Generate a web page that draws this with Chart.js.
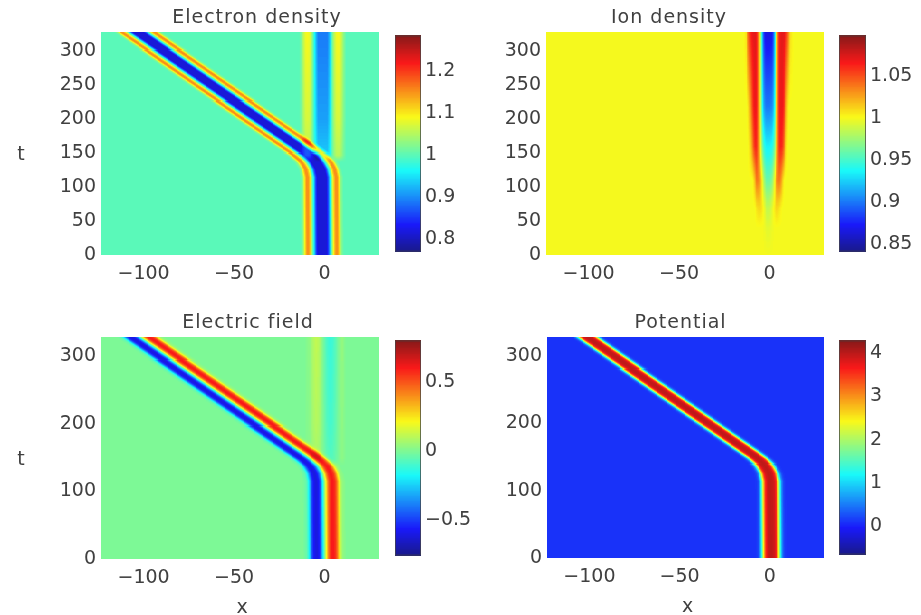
<!DOCTYPE html>
<html>
<head>
<meta charset="utf-8">
<script src="https://cdn.jsdelivr.net/npm/chart.js@4.4.1/dist/chart.umd.min.js"></script>
<style>
html, body { margin: 0; padding: 0; background: #fff; }
#wrap { position: relative; width: 921px; height: 615px; overflow: hidden; }
canvas { position: absolute; filter: blur(0.6px); }
</style>
</head>
<body>
<div id="wrap"></div>
<script>
// axes
const xLimits = [-123.5, 30];
const tLimits = [0, 328];
const xTicks = [-100, -50, 0];
const tTicksTop = [0, 50, 100, 150, 200, 250, 300];
const tTicksBottom = [0, 100, 200, 300];

// colour bar ranges and ticks
const neRange = [0.77, 1.284];
const neTicks = [0.8, 0.9, 1, 1.1, 1.2];
const niRange = [0.841, 1.098];
const niTicks = [0.85, 0.9, 0.95, 1, 1.05];
const efRange = [-0.755, 0.797];
const efTicks = [-0.5, 0, 0.5];
const phiRange = [-0.65, 4.29];
const phiTicks = [0, 1, 2, 3, 4];

// soliton track (t -> centre x, horizontal width factor)
const trackT = [0, 115, 127, 137, 147, 158, 328];
const trackX = [0, -0.3, -1.2, -3.2, -7.0, -12.6, -101.5];
const trackWidth = [1, 1, 1, 1.02, 1.06, 1.1, 1.12];

// electron density across the soliton (distance from centre -> value)
const neShift = -1.0;
const neOffsets = [0, 2.5, 3.5, 4.5, 5.5, 6.5, 7.5, 8.5, 9.5, 10.5, 12];
const neValues = [0.815, 0.815, 0.87, 0.96, 1.03, 1.11, 1.15, 1.15, 1.1, 1.03, 1.0];

// electron density left behind at x ~ 0 once the soliton has gone
const residualT = [0, 138, 148, 200, 328];
const residualWeight = [0, 0, 0.6, 0.8, 1];
const neResShift = -0.8;
const neResOffsets = [0, 2.5, 3.5, 4.5, 5.5, 6.5, 7.5, 8.5, 9.5, 10.5, 11.5, 13];
const neResValues = [0.89, 0.89, 0.92, 0.965, 1.02, 1.06, 1.085, 1.09, 1.085, 1.06, 1.03, 1.0];

// ion density cavity at x ~ 0, one row per time
const niShift = -0.5;
const niT = [0, 40, 70, 110, 160, 220, 328];
const niOffsets = [0, 1, 2, 3, 4, 5, 6, 7, 8, 9, 10, 11, 12, 14];
const niRows = [
    [1, 1, 1, 1, 1, 1, 1, 1, 1, 1, 1, 1, 1, 1],
    [0.995, 0.996, 0.998, 1, 1, 1, 1, 1, 1, 1, 1, 1, 1, 1],
    [0.985, 0.988, 0.995, 1.003, 1.01, 1.012, 1.008, 1.003, 1, 1, 1, 1, 1, 1],
    [0.96, 0.962, 0.97, 0.99, 1.015, 1.035, 1.04, 1.03, 1.01, 1, 1, 1, 1, 1],
    [0.935, 0.936, 0.94, 0.955, 0.985, 1.03, 1.06, 1.065, 1.055, 1.03, 1.01, 1, 1, 1],
    [0.9, 0.901, 0.905, 0.925, 0.97, 1.03, 1.065, 1.07, 1.068, 1.05, 1.025, 1.005, 1, 1],
    [0.865, 0.866, 0.87, 0.9, 0.96, 1.03, 1.065, 1.072, 1.072, 1.07, 1.06, 1.04, 1.01, 1]
];

// electric field: antisymmetric dipole (|distance| -> magnitude)
const efShift = 0.3;
const efOffsets = [0, 1, 2, 3, 4, 5, 6, 7, 8, 9, 10, 12];
const efValues = [0, 0.22, 0.42, 0.55, 0.6, 0.6, 0.56, 0.45, 0.27, 0.12, 0.04, 0];
const efResOffsets = [-11, -8, -6, -4.5, -3, -1.5, 0, 1.5, 3, 4.5, 6, 8, 10, 12];
const efResValues = [0, 0.03, 0.09, 0.12, 0.1, 0.04, -0.03, -0.09, -0.12, -0.11, -0.07, 0, 0.04, 0];

// potential hump
const phiShift = 1.0;
const phiOffsets = [0, 1, 2, 3, 4, 5, 6, 7, 8, 10];
const phiValues = [4.0, 3.97, 3.88, 3.55, 2.7, 1.55, 0.65, 0.25, 0.12, 0.1];

const cellX = 0.5, cellT = 1.5;
const FONT = 'DejaVu Sans';
const INK = '#404040';

function interp(xs, ys, v) {
    if (v <= xs[0]) return ys[0];
    const n = xs.length - 1;
    if (v >= xs[n]) return ys[n];
    let i = 1;
    while (xs[i] < v) i++;
    const f = (v - xs[i - 1]) / (xs[i] - xs[i - 1]);
    return ys[i - 1] + f * (ys[i] - ys[i - 1]);
}

function electronDensity(x, t) {
    const xc = interp(trackT, trackX, t), w = interp(trackT, trackWidth, t);
    let v = interp(neOffsets, neValues, Math.abs(x - xc - neShift) / w);
    const k = interp(residualT, residualWeight, t);
    if (k > 0) v += k * (interp(neResOffsets, neResValues, Math.abs(x - neResShift)) - 1);
    return v;
}
function ionDensity(x, t) {
    const d = Math.abs(x - niShift);
    const col = niRows.map(r => interp(niOffsets, r, d));
    return interp(niT, col, t);
}
function electricField(x, t) {
    const xc = interp(trackT, trackX, t), w = interp(trackT, trackWidth, t);
    const d = (x - xc - efShift) / w;
    let v = Math.sign(d) * interp(efOffsets, efValues, Math.abs(d));
    const k = interp(residualT, residualWeight, t);
    if (k > 0) v += k * interp(efResOffsets, efResValues, x);
    return v;
}
function potential(x, t) {
    const xc = interp(trackT, trackX, t), w = interp(trackT, trackWidth, t);
    return interp(phiOffsets, phiValues, Math.abs(x - xc - phiShift) / w);
}

// jet colormap, slightly washed like the video frame, cached
const jetCache = [];
for (let i = 0; i < 256; i++) {
    const f = i / 255;
    const c = v => Math.round(25 + 0.88 * 255 * Math.max(0, Math.min(1, v)));
    jetCache.push(`rgb(${c(Math.min(4 * f - 1.5, -4 * f + 4.5))},${c(Math.min(4 * f - 0.5, -4 * f + 3.5))},${c(Math.min(4 * f + 0.5, -4 * f + 2.5))})`);
}
function jet(v, range) {
    let f = (v - range[0]) / (range[1] - range[0]);
    f = Math.max(0, Math.min(1, f));
    return jetCache[Math.round(f * 255)];
}

function fmt(v) { return String(v).replace('-', '\u2212'); }

// heat map cells + titles, one plugin per panel
function heatPlugin(p, canvasLeft) {
    return {
        id: 'heat',
        beforeDatasetsDraw(chart) {
            const { ctx, chartArea: a, scales: { x, y } } = chart;
            ctx.save();
            ctx.beginPath();
            ctx.rect(a.left, a.top, a.right - a.left, a.bottom - a.top);
            ctx.clip();
            for (let t = tLimits[0]; t < tLimits[1]; t += cellT) {
                const y0 = Math.floor(y.getPixelForValue(t + cellT));
                const y1 = Math.ceil(y.getPixelForValue(t));
                const tm = t + cellT / 2;
                for (let xv = xLimits[0]; xv < xLimits[1]; xv += cellX) {
                    const x0 = Math.floor(x.getPixelForValue(xv));
                    const x1 = Math.ceil(x.getPixelForValue(xv + cellX));
                    ctx.fillStyle = jet(p.field(xv + cellX / 2, tm), p.range);
                    ctx.fillRect(x0, y0, x1 - x0, y1 - y0);
                }
            }
            ctx.restore();
        },
        afterDraw(chart) {
            const { ctx, chartArea: a } = chart;
            const cx = (a.left + a.right) / 2;
            ctx.save();
            ctx.fillStyle = INK;
            ctx.textAlign = 'center';
            ctx.textBaseline = 'middle';
            ctx.font = `19px "${FONT}"`;
            ctx.letterSpacing = '1px';
            ctx.fillText(p.title, cx + p.titleDx, a.top - 14);
            ctx.letterSpacing = '0px';
            if (p.tLabel) ctx.fillText('t', 21 - canvasLeft, (a.top + a.bottom) / 2 + 12);
            if (p.xLabel) ctx.fillText('x', cx + 2, a.bottom + 49);
            ctx.restore();
        }
    };
}

function barPlugin(range) {
    return {
        id: 'cbar',
        beforeDatasetsDraw(chart) {
            const { ctx, chartArea: a, scales: { y } } = chart;
            const n = 256;
            for (let i = 0; i < n; i++) {
                const v0 = range[0] + (range[1] - range[0]) * i / n;
                const v1 = range[0] + (range[1] - range[0]) * (i + 1) / n;
                const y0 = Math.floor(y.getPixelForValue(v1));
                const y1 = Math.ceil(y.getPixelForValue(v0));
                ctx.fillStyle = jet((v0 + v1) / 2, range);
                ctx.fillRect(a.left, y0, a.right - a.left, y1 - y0);
            }
            ctx.strokeStyle = 'rgba(70,70,70,0.75)';
            ctx.lineWidth = 1;
            ctx.strokeRect(a.left + 0.5, a.top + 0.5, a.right - a.left - 1, a.bottom - a.top - 1);
        }
    };
}

const tickFont = { family: FONT, size: 19 };

const panels = [
    { title: 'Electron density', field: electronDensity, range: neRange, cbTicks: neTicks, tTicks: tTicksTop,
      box: [101, 32, 379, 255], cb: [395, 421], titleDx: 17, tLabel: true, xLabel: false },
    { title: 'Ion density', field: ionDensity, range: niRange, cbTicks: niTicks, tTicks: tTicksTop,
      box: [546, 32, 824, 255], cb: [839, 866], titleDx: -16, tLabel: false, xLabel: false },
    { title: 'Electric field', field: electricField, range: efRange, cbTicks: efTicks, tTicks: tTicksBottom,
      box: [101, 337, 379, 559], cb: [395, 421], titleDx: 8, tLabel: true, xLabel: true },
    { title: 'Potential', field: potential, range: phiRange, cbTicks: phiTicks, tTicks: tTicksBottom,
      box: [547, 337, 824, 558], cb: [839, 866], titleDx: -5, tLabel: false, xLabel: true }
];

const wrap = document.getElementById('wrap');

function addCanvas(left, top, w, h) {
    const c = document.createElement('canvas');
    c.width = w; c.height = h;
    c.style.left = left + 'px'; c.style.top = top + 'px';
    c.style.width = w + 'px'; c.style.height = h + 'px';
    wrap.appendChild(c);
    return c;
}

panels.forEach(p => {
    const [L, T, R, B] = p.box;
    const padL = 100, padT = 32, padR = 6, padB = 56;
    const left = L - padL;
    const c = addCanvas(left, T - padT, R - L + padL + padR, B - T + padT + padB);
    new Chart(c, {
        type: 'scatter',
        data: { datasets: [{ data: [] }] },
        options: {
            responsive: false, animation: false, devicePixelRatio: 1,
            layout: { padding: { top: padT, right: padR, left: 0, bottom: 0 } },
            plugins: { legend: { display: false }, tooltip: { enabled: false } },
            scales: {
                x: {
                    type: 'linear', min: xLimits[0], max: xLimits[1],
                    grid: { display: false, drawTicks: false }, border: { display: false },
                    ticks: { font: tickFont, color: INK, padding: 8, autoSkip: false, maxRotation: 0, callback: fmt },
                    afterBuildTicks: s => { s.ticks = xTicks.map(v => ({ value: v })); },
                    afterFit: s => { s.height = padB; }
                },
                y: {
                    type: 'linear', min: tLimits[0], max: tLimits[1],
                    grid: { display: false, drawTicks: false }, border: { display: false },
                    ticks: { font: tickFont, color: INK, padding: 5, autoSkip: false, callback: fmt },
                    afterBuildTicks: s => { s.ticks = p.tTicks.map(v => ({ value: v })); },
                    afterFit: s => { s.width = padL; }
                }
            }
        },
        plugins: [heatPlugin(p, left)]
    });

    // colour bar
    const cbW = p.cb[1] - p.cb[0], lab = 70, pad = 12;
    const cc = addCanvas(p.cb[0], T - pad, cbW + lab, B - T + 2 * pad);
    new Chart(cc, {
        type: 'scatter',
        data: { datasets: [{ data: [] }] },
        options: {
            responsive: false, animation: false, devicePixelRatio: 1,
            layout: { padding: { top: pad, bottom: pad, left: 0, right: 0 } },
            plugins: { legend: { display: false }, tooltip: { enabled: false } },
            scales: {
                x: { type: 'linear', display: false, min: 0, max: 1 },
                y: {
                    type: 'linear', position: 'right', min: p.range[0], max: p.range[1],
                    grid: { display: false, drawTicks: false }, border: { display: false },
                    ticks: { font: tickFont, color: INK, padding: 4, autoSkip: false, callback: fmt },
                    afterBuildTicks: s => { s.ticks = p.cbTicks.map(v => ({ value: v })); },
                    afterFit: s => { s.width = lab; }
                }
            }
        },
        plugins: [barPlugin(p.range)]
    });
});
</script>
</body>
</html>
